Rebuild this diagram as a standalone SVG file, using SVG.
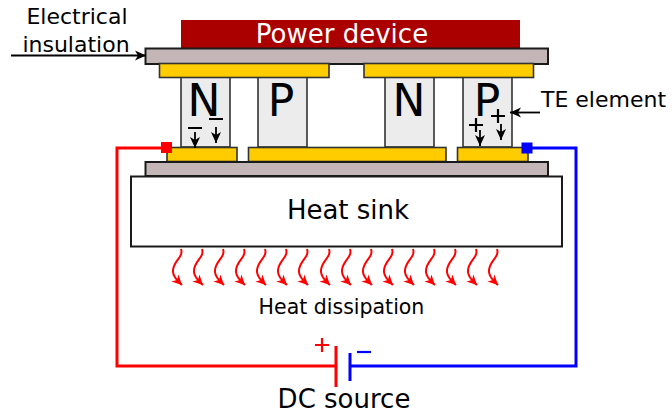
<svg xmlns="http://www.w3.org/2000/svg" width="672" height="415" viewBox="0 0 672 415">
<style>
text{font-family:"DejaVu Sans",sans-serif;fill:#000}
.ins{fill:#c4b6b6;stroke:#1a1a1a;stroke-width:2}
.cu{fill:#ffcc00;stroke:#333;stroke-width:1.6}
.leg{fill:#ececec;stroke:#333;stroke-width:1.6}
.l{font-size:44px;text-anchor:middle}
.m{font-size:22px}
.big{font-size:26px;text-anchor:middle}
.bar{stroke:#000;stroke-width:2.2;fill:none}
.ar{stroke:#000;stroke-width:1.8;fill:none;marker-end:url(#a)}
.sq{fill:none;stroke:#f00;stroke-width:2;marker-end:url(#r)}
</style>
<defs>
<marker id="a" markerUnits="userSpaceOnUse" markerWidth="12" markerHeight="12" refX="11" refY="6" orient="auto"><path d="M0 1L11 6L0 11L3 6Z" fill="#000"/></marker>
<marker id="r" markerUnits="userSpaceOnUse" markerWidth="12" markerHeight="12" refX="10" refY="6" orient="auto"><path d="M0 1L10 6L0 11L3 6Z" fill="#f00"/></marker>
<path id="s" d="M0 0C3 9-9 12-8 23C-7.500 29-3 32 1 36"/>
</defs>
<g id="legs">
<g id="leg-n1"><rect class="leg" x="181" y="77" width="49" height="70"/><text class="l" x="204" y="116">N</text></g>
<g id="leg-p1"><rect class="leg" x="258" y="77" width="49" height="70"/><text class="l" x="281" y="116">P</text></g>
<g id="leg-n2"><rect class="leg" x="385" y="77" width="49" height="70"/><text class="l" x="409" y="116">N</text></g>
<g id="leg-p2"><rect class="leg" x="463" y="77" width="49" height="70"/><text class="l" x="487" y="116">P</text></g>
</g>
<g id="power-device"><rect x="181" y="20" width="339" height="28" fill="#aa0000"/><text x="342" y="43" font-size="26" text-anchor="middle" style="fill:#fff">Power device</text></g>
<g id="insulation-top"><rect class="ins" x="145.500" y="48.500" width="402.500" height="15.500"/></g>
<g id="conductor-top-left"><rect class="cu" x="159.500" y="63.500" width="169.500" height="14"/></g>
<g id="conductor-top-right"><rect class="cu" x="364" y="63.500" width="169.500" height="14"/></g>
<g id="conductor-bottom-left"><rect class="cu" x="167" y="147.500" width="70" height="14"/></g>
<g id="conductor-bottom-mid"><rect class="cu" x="248.500" y="147.500" width="197.500" height="14"/></g>
<g id="conductor-bottom-right"><rect class="cu" x="457.500" y="147.500" width="70.500" height="14"/></g>
<g id="insulation-bottom"><rect class="ins" x="145.500" y="162" width="402.500" height="14"/></g>
<g id="heat-sink"><rect x="131" y="176.500" width="431" height="70" fill="#fff" stroke="#1a1a1a" stroke-width="2"/><text class="big" x="348" y="219">Heat sink</text></g>
<g id="connectors">
<path d="M166 148H117V366H336" fill="none" stroke="#f00" stroke-width="3"/>
<path d="M527 148H576V366H350" fill="none" stroke="#00f" stroke-width="3"/>
<path d="M336 346V387" fill="none" stroke="#f00" stroke-width="3"/>
<path d="M350 353V381" fill="none" stroke="#00f" stroke-width="3"/>
<path class="ar" d="M11 55.500H146"/>
<path class="ar" d="M540 112.500H510"/>
<path class="ar" d="M195 132V148"/>
<path class="ar" d="M216 127V143"/>
<path class="ar" d="M480 130V146"/>
<path class="ar" d="M501 124V140"/>
<use class="sq" href="#s" x="181" y="249"/><use class="sq" href="#s" x="202" y="249"/><use class="sq" href="#s" x="223" y="249"/><use class="sq" href="#s" x="244" y="249"/><use class="sq" href="#s" x="265" y="249"/><use class="sq" href="#s" x="286" y="249"/><use class="sq" href="#s" x="307" y="249"/><use class="sq" href="#s" x="329" y="249"/><use class="sq" href="#s" x="350" y="249"/><use class="sq" href="#s" x="371" y="249"/><use class="sq" href="#s" x="392" y="249"/><use class="sq" href="#s" x="413" y="249"/><use class="sq" href="#s" x="434" y="249"/><use class="sq" href="#s" x="455" y="249"/><use class="sq" href="#s" x="476" y="249"/><use class="sq" href="#s" x="497" y="249"/>
</g>
<g id="charges">
<path class="bar" d="M188 128H202M209 119H223M469 125H483M476 118V132M491 116H505M498 109V123"/>
</g>
<g id="terminal-red"><rect x="161" y="142" width="11" height="11" fill="#f00"/></g>
<g id="terminal-blue"><rect x="521.500" y="142.500" width="11" height="11" fill="#00f"/></g>
<g id="source">
<path d="M315 345H329M322 338V352" fill="none" stroke="#f00" stroke-width="2.200"/>
<path d="M357 352H371" fill="none" stroke="#00f" stroke-width="2.200"/>
<text class="big" x="344" y="408">DC source</text>
</g>
<g id="labels">
<text class="m" x="77" y="24" text-anchor="middle">Electrical</text>
<text class="m" x="76" y="52" text-anchor="middle">insulation</text>
<text class="m" x="541" y="107">TE element</text>
<text class="m" x="341.500" y="314" text-anchor="middle" style="font-size:20.500px">Heat dissipation</text>
</g>
</svg>
